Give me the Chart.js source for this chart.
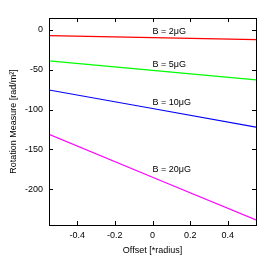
<!DOCTYPE html>
<html>
<head>
<meta charset="utf-8">
<script src="https://cdn.jsdelivr.net/npm/chart.js@4"></script>
<style>
  html, body { margin: 0; padding: 0; background: #fff; }
  #wrap { width: 273px; height: 260px; }
</style>
</head>
<body>
<div id="wrap"><canvas id="rm"></canvas></div>
<script>
// offsets along the cut (in units of radius)
const offsets = [-0.55, 0, 0.55];

// rotation measure for each field strength
const rm2 = [-7.2, -9.6, -12.1];
const rm5 = [-38.8, -50.7, -62.7];
const rm10 = [-75.4, -98.7, -122];
const rm20 = [-131, -185, -238.6];

const xTicks = [-0.4, -0.2, 0, 0.2, 0.4];
const yTicks = [-200, -150, -100, -50, 0];

// in-plot labels: text and anchor (offset, RM)
const labelText = ['B = 2\u03bcG', 'B = 5\u03bcG', 'B = 10\u03bcG', 'B = 20\u03bcG'];
const labelX = [0, 0, 0, 0];
const labelY = [-2.5, -43, -91, -175.5];

const FONT = '"Liberation Sans", Arial, Helvetica, sans-serif';

function series(label, values, color) {
    return {
        label: label,
        data: offsets.map((x, i) => ({ x: x, y: values[i] })),
        borderColor: color,
        borderWidth: 1.2,
        pointRadius: 0,
        fill: false,
        tension: 0
    };
}

// frame, inward ticks and curve labels, gnuplot style
const framePlugin = {
    id: 'frame',
    afterDatasetsDraw(chart) {
        const { ctx, chartArea: a, scales } = chart;
        const len = 4;
        ctx.save();
        ctx.strokeStyle = '#000';
        ctx.lineWidth = 1;
        ctx.beginPath();
        xTicks.forEach(v => {
            const px = Math.round(scales.x.getPixelForValue(v)) + 0.5;
            ctx.moveTo(px, a.bottom); ctx.lineTo(px, a.bottom - len);
            ctx.moveTo(px, a.top); ctx.lineTo(px, a.top + len);
        });
        yTicks.forEach(v => {
            const py = Math.round(scales.y.getPixelForValue(v)) + 0.5;
            ctx.moveTo(a.left, py); ctx.lineTo(a.left + len, py);
            ctx.moveTo(a.right, py); ctx.lineTo(a.right - len, py);
        });
        ctx.stroke();
        ctx.strokeRect(Math.round(a.left) + 0.5, Math.round(a.top) + 0.5,
            Math.round(a.right - a.left), Math.round(a.bottom - a.top));

        ctx.fillStyle = '#000';
        ctx.font = '9px ' + FONT;
        ctx.textAlign = 'left';
        ctx.textBaseline = 'middle';
        labelText.forEach((t, i) => {
            ctx.fillText(t, scales.x.getPixelForValue(labelX[i]),
                scales.y.getPixelForValue(labelY[i]));
        });
        ctx.restore();
    }
};

const ctx = document.getElementById('rm').getContext('2d');
new Chart(ctx, {
    type: 'line',
    data: {
        datasets: [
            series('B = 2uG', rm2, '#ff0000'),
            series('B = 5uG', rm5, '#00ff00'),
            series('B = 10uG', rm10, '#0000ff'),
            series('B = 20uG', rm20, '#ff00ff')
        ]
    },
    options: {
        responsive: true,
        maintainAspectRatio: false,
        animation: false,
        layout: { padding: { top: 18, right: 17, left: 0, bottom: 0 } },
        plugins: { legend: { display: false }, tooltip: { enabled: false } },
        scales: {
            x: {
                type: 'linear',
                min: -0.55,
                max: 0.55,
                afterBuildTicks: s => { s.ticks = xTicks.map(v => ({ value: v })); },
                afterFit: s => { s.height = 35; },
                grid: { display: false, drawTicks: false },
                border: { display: false },
                ticks: {
                    color: '#000',
                    padding: 5,
                    font: { family: FONT, size: 9 },
                    callback: v => (v === 0 ? '0' : v.toFixed(1))
                },
                title: {
                    display: true,
                    text: 'Offset [*radius]',
                    color: '#000',
                    font: { family: FONT, size: 9 },
                    padding: { top: 0, bottom: 4 }
                }
            },
            y: {
                min: -245,
                max: 15,
                afterBuildTicks: s => { s.ticks = yTicks.map(v => ({ value: v })); },
                afterFit: s => { s.width = 49; },
                grid: { display: false, drawTicks: false },
                border: { display: false },
                ticks: {
                    color: '#000',
                    padding: 6,
                    font: { family: FONT, size: 9 }
                },
                title: {
                    display: true,
                    text: 'Rotation Measure [rad/m\u00b2]',
                    color: '#000',
                    font: { family: FONT, size: 9 },
                    padding: { top: 8, bottom: 0 }
                }
            }
        }
    },
    plugins: [framePlugin]
});
</script>
</body>
</html>
